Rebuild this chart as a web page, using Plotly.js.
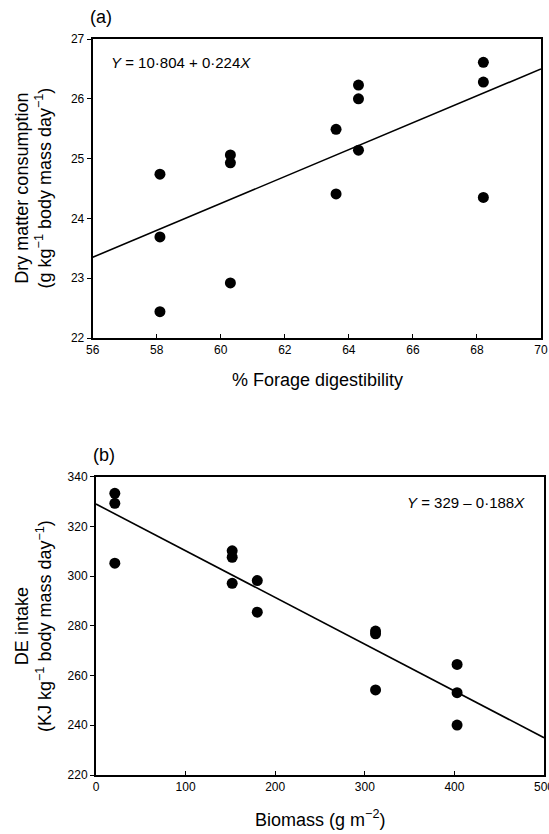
<!DOCTYPE html>
<html><head><meta charset="utf-8">
<script src="https://cdn.plot.ly/plotly-3.0.1.min.js"></script>
<style>html,body{margin:0;padding:0;background:#fff}#chart{width:549px;height:834px}</style>
</head><body><div id="chart"></div>
<script>
// Panel (a)
const digestibility = [58.1, 58.1, 58.1, 60.3, 60.3, 60.3, 63.6, 63.6, 64.3, 64.3, 64.3, 68.2, 68.2, 68.2];
const consumption  = [24.74, 23.69, 22.44, 25.06, 24.93, 22.92, 25.49, 24.41, 26.23, 26.0, 25.14, 26.61, 26.28, 24.35];
const fitAx = [56, 70];
const fitAy = [23.35, 26.5];
const ticksAx = [56, 58, 60, 62, 64, 66, 68, 70];
const ticksAy = [22, 23, 24, 25, 26, 27];
// Panel (b)
const biomass  = [21, 21, 21, 152, 152, 152, 180, 180, 312, 312, 312, 403, 403, 403];
const deIntake = [333.3, 329.3, 305.2, 310.2, 307.6, 297.1, 298.2, 285.5, 277.9, 276.8, 254.2, 264.5, 253.1, 240.1];
const fitBx = [0, 500];
const fitBy = [329, 235];
const ticksBx = [0, 100, 200, 300, 400, 500];
const ticksBy = [220, 240, 260, 280, 300, 320, 340];

const W = 549, H = 834;
const FONT = 'Liberation Sans, Arial, Helvetica, sans-serif';
const px = v => v / W, py = v => 1 - v / H;

const mk = {color: '#000', size: 11, symbol: 'circle'};
const traces = [
  {x: digestibility, y: consumption, mode: 'markers', type: 'scatter', marker: mk, xaxis: 'x', yaxis: 'y'},
  {x: fitAx, y: fitAy, mode: 'lines', type: 'scatter', line: {color: '#000', width: 1.6}, xaxis: 'x', yaxis: 'y'},
  {x: biomass, y: deIntake, mode: 'markers', type: 'scatter', marker: mk, xaxis: 'x2', yaxis: 'y2'},
  {x: fitBx, y: fitBy, mode: 'lines', type: 'scatter', line: {color: '#000', width: 1.6}, xaxis: 'x2', yaxis: 'y2'}
];

const axBase = {showgrid: false, zeroline: false, showline: true, mirror: true, linecolor: '#000', linewidth: 2,
  ticklen: 4, tickwidth: 1, tickcolor: '#000', ticklabeloverflow: 'allow',
  tickfont: {family: FONT, size: 12, color: '#000'}, fixedrange: true};

function note(text, x, y, opts) {
  return Object.assign({text: text, x: px(x), y: py(y), xref: 'paper', yref: 'paper', xanchor: 'center', yanchor: 'middle',
    showarrow: false, font: {family: FONT, size: 18, color: '#000'}}, opts || {});
}

const layout = {
  width: W, height: H, margin: {l: 0, r: 0, t: 0, b: 0}, showlegend: false,
  paper_bgcolor: '#fff', plot_bgcolor: '#fff', font: {family: FONT, color: '#000'},
  xaxis: Object.assign({}, axBase, {domain: [px(92.7), px(541)], range: [56, 70], tickvals: ticksAx, ticks: 'inside', anchor: 'y'}),
  yaxis: Object.assign({}, axBase, {domain: [py(338), py(39)], range: [22, 27], tickvals: ticksAy, ticks: 'outside', anchor: 'x'}),
  xaxis2: Object.assign({}, axBase, {domain: [px(96), px(544)], range: [0, 500], tickvals: ticksBx, ticks: 'inside', anchor: 'y2'}),
  yaxis2: Object.assign({}, axBase, {domain: [py(775), py(476.7)], range: [220, 340], tickvals: ticksBy, ticks: 'outside', anchor: 'x2'}),
  annotations: [
    note('(a)', 101, 17),
    note('<i>Y</i> = 10·804 + 0·224<i>X</i>', 109, 63, {xanchor: 'left', font: {family: FONT, size: 15, color: '#000'}}),
    note('(b)', 104, 455),
    note('<i>Y</i> = 329 – 0·188<i>X</i>', 527, 502, {xanchor: 'right', font: {family: FONT, size: 15, color: '#000'}}),
    note('Dry matter consumption<br>(g kg<sup>−1</sup> body mass day<sup>−1</sup>)', 33, 188.5, {textangle: -90}),
    note('DE intake<br>(KJ kg<sup>−1</sup> body mass day<sup>−1</sup>)', 33, 626, {textangle: -90}),
    note('% Forage digestibility', 317, 380),
    note('Biomass (g m<sup>−2</sup>)', 320, 818)
  ]
};

Plotly.newPlot('chart', traces, layout, {displayModeBar: false, staticPlot: true});
</script>
</body></html>
